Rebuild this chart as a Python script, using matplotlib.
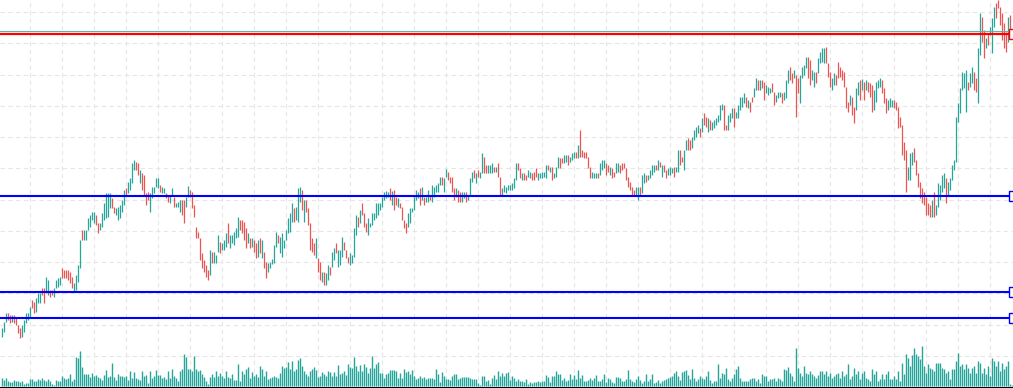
import matplotlib
matplotlib.use("Agg")
import matplotlib.pyplot as plt
import numpy as np

# candle opens / closes (price units), one value per bar
opens = [
    63, 68, 78, 87, 85, 78, 85, 83, 75, 72,
    63, 68, 77, 80, 82, 100, 98, 88, 97, 97,
    112, 112, 107, 105, 110, 110, 103, 112, 113, 115,
    132, 130, 130, 130, 128, 123, 108, 110, 118, 132,
    170, 160, 160, 170, 173, 180, 177, 185, 177, 170,
    173, 180, 182, 183, 192, 202, 193, 185, 180, 182,
    188, 195, 212, 207, 210, 217, 230, 238, 237, 217,
    227, 225, 207, 208, 188, 202, 207, 213, 212, 215,
    207, 207, 207, 205, 197, 205, 203, 193, 193, 188,
    200, 200, 193, 203, 210, 208, 195, 173, 168, 162,
    147, 140, 135, 130, 125, 148, 137, 137, 148, 158,
    150, 150, 153, 177, 152, 157, 155, 162, 163, 180,
    180, 178, 172, 157, 162, 153, 160, 157, 143, 162,
    142, 148, 138, 128, 132, 136, 137, 153, 165, 147,
    143, 152, 160, 167, 168, 178, 192, 180, 178, 198,
    210, 178, 200, 192, 177, 162, 157, 142, 142, 138,
    118, 128, 115, 120, 133, 133, 140, 157, 133, 135,
    143, 158, 150, 143, 135, 137, 143, 165, 183, 177,
    197, 187, 177, 165, 173, 175, 180, 182, 185, 190,
    193, 200, 202, 203, 212, 195, 210, 203, 193, 197,
    193, 180, 177, 173, 177, 188, 190, 200, 202, 212,
    200, 203, 198, 198, 205, 198, 203, 208, 208, 215,
    223, 208, 223, 228, 223, 223, 212, 203, 210, 208,
    198, 202, 208, 200, 205, 218, 230, 217, 230, 222,
    227, 243, 235, 227, 227, 227, 233, 228, 237, 223,
    205, 208, 207, 210, 210, 210, 212, 220, 237, 232,
    220, 227, 225, 223, 222, 227, 228, 232, 220, 222,
    222, 223, 222, 235, 228, 233, 222, 223, 232, 242,
    242, 237, 238, 245, 238, 240, 242, 248, 242, 270,
    250, 248, 248, 243, 233, 222, 222, 222, 227, 225,
    230, 232, 237, 235, 225, 232, 228, 227, 228, 235,
    237, 237, 232, 223, 218, 213, 210, 205, 200, 213,
    207, 217, 225, 220, 222, 225, 228, 235, 230, 238,
    223, 235, 230, 225, 225, 227, 233, 228, 228, 250,
    243, 230, 250, 262, 260, 252, 260, 263, 267, 272,
    268, 287, 283, 268, 280, 270, 272, 275, 278, 280,
    290, 295, 275, 270, 278, 282, 292, 282, 282, 290,
    293, 297, 303, 292, 298, 303, 303, 310, 320, 310,
    320, 318, 307, 305, 307, 317, 308, 298, 302, 303,
    307, 300, 302, 317, 333, 327, 322, 325, 322, 297,
    322, 325, 332, 343, 340, 320, 313, 328, 327, 337,
    338, 337, 353, 337, 328, 310, 315, 325, 338, 333,
    330, 328, 313, 298, 295, 303, 293, 290, 305, 320,
    310, 318, 310, 318, 317, 315, 290, 298, 312, 313,
    320, 312, 302, 290, 293, 293, 300, 298, 293, 283,
    275, 258, 250, 220, 220, 235, 252, 240, 227, 218,
    212, 208, 203, 197, 195, 183, 208, 185, 193, 200,
    208, 212, 222, 205, 210, 220, 230, 238, 278, 287,
    310, 312, 288, 318, 313, 317, 328, 322, 297, 345,
    383, 370, 352, 367, 365, 347, 373, 397, 400, 393,
    387, 377, 368, 358, 385, 370,
]
closes = [
    72, 78, 87, 80, 77, 85, 77, 75, 67, 62,
    75, 80, 87, 87, 93, 92, 87, 102, 107, 107,
    105, 97, 123, 120, 103, 105, 112, 120, 122, 123,
    122, 122, 122, 120, 117, 112, 117, 125, 135, 160,
    160, 170, 170, 182, 185, 188, 188, 175, 167, 177,
    187, 197, 207, 207, 207, 192, 187, 192, 193, 195,
    200, 210, 205, 218, 222, 237, 240, 230, 225, 230,
    210, 205, 195, 200, 207, 213, 213, 222, 222, 208,
    213, 212, 202, 198, 205, 212, 193, 197, 198, 200,
    185, 177, 203, 214, 203, 192, 183, 162, 162, 140,
    132, 128, 123, 120, 150, 137, 148, 145, 165, 147,
    157, 160, 167, 157, 165, 165, 168, 172, 183, 170,
    167, 160, 152, 167, 152, 162, 148, 142, 160, 147,
    160, 132, 122, 137, 138, 141, 155, 168, 157, 163,
    167, 160, 170, 182, 187, 197, 178, 193, 212, 213,
    190, 200, 188, 175, 150, 148, 145, 162, 128, 120,
    128, 115, 127, 135, 125, 148, 152, 147, 150, 150,
    163, 150, 142, 137, 147, 145, 172, 185, 173, 190,
    185, 173, 168, 182, 177, 187, 187, 197, 197, 197,
    203, 208, 209, 208, 200, 209, 190, 195, 202, 192,
    180, 172, 167, 187, 192, 192, 205, 210, 208, 195,
    213, 195, 203, 210, 200, 215, 213, 215, 217, 223,
    215, 222, 231, 220, 217, 208, 200, 212, 198, 198,
    208, 208, 198, 205, 222, 228, 222, 227, 223, 228,
    247, 227, 227, 235, 235, 237, 228, 233, 223, 205,
    212, 215, 213, 215, 215, 217, 222, 237, 230, 222,
    227, 220, 220, 230, 228, 220, 220, 223, 227, 227,
    228, 228, 235, 230, 233, 220, 227, 233, 243, 232,
    237, 245, 245, 235, 243, 247, 248, 242, 255, 243,
    243, 242, 242, 232, 222, 228, 227, 227, 222, 237,
    240, 240, 225, 228, 233, 222, 223, 237, 237, 227,
    230, 232, 220, 213, 210, 205, 205, 213, 213, 205,
    225, 227, 218, 225, 230, 235, 235, 230, 240, 233,
    235, 228, 222, 232, 233, 232, 223, 233, 250, 235,
    238, 250, 260, 250, 250, 263, 270, 273, 275, 263,
    282, 275, 273, 282, 270, 278, 280, 282, 285, 295,
    296, 270, 270, 285, 287, 292, 273, 288, 295, 303,
    303, 307, 293, 300, 288, 298, 312, 322, 310, 320,
    312, 300, 315, 313, 312, 308, 295, 305, 308, 308,
    297, 308, 320, 330, 320, 317, 330, 283, 307, 325,
    333, 335, 343, 322, 315, 330, 328, 317, 342, 348,
    352, 352, 337, 323, 313, 322, 327, 315, 322, 323,
    320, 313, 292, 288, 305, 285, 277, 312, 318, 300,
    321, 300, 320, 308, 303, 288, 310, 318, 320, 322,
    307, 297, 287, 300, 302, 300, 292, 290, 272, 273,
    245, 240, 208, 233, 247, 248, 238, 225, 213, 202,
    197, 195, 185, 185, 183, 200, 183, 195, 217, 215,
    225, 227, 197, 218, 222, 235, 240, 283, 297, 312,
    328, 327, 330, 310, 327, 333, 310, 308, 352, 387,
    358, 342, 362, 355, 373, 382, 393, 382, 392, 375,
    360, 352, 348, 383, 363, 362,
]
volume = [
    8, 6, 8, 5, 4, 4, 6, 5, 5, 4,
    5, 2, 3, 3, 7, 7, 5, 5, 7, 6,
    8, 6, 5, 7, 5, 2, 1, 6, 5, 5,
    10, 8, 7, 8, 12, 5, 7, 29, 28, 35,
    19, 12, 12, 12, 9, 13, 10, 11, 9, 8,
    6, 11, 16, 9, 10, 23, 9, 6, 12, 10,
    10, 9, 10, 6, 15, 8, 14, 8, 7, 6,
    15, 10, 11, 3, 15, 8, 10, 16, 11, 11,
    8, 9, 7, 15, 8, 17, 10, 8, 5, 15,
    17, 32, 29, 17, 17, 15, 30, 17, 15, 16,
    12, 9, 5, 2, 9, 12, 9, 15, 10, 13,
    10, 8, 15, 9, 8, 12, 6, 6, 22, 5,
    15, 12, 17, 19, 8, 14, 10, 12, 9, 20,
    17, 10, 15, 7, 8, 9, 10, 9, 8, 13,
    20, 18, 19, 24, 17, 25, 15, 17, 26, 28,
    20, 15, 12, 10, 15, 17, 19, 16, 9, 10,
    14, 12, 10, 15, 14, 10, 14, 10, 21, 12,
    13, 15, 11, 22, 19, 18, 29, 20, 15, 21,
    15, 22, 19, 13, 18, 30, 18, 22, 24, 13,
    13, 8, 12, 13, 16, 16, 16, 15, 8, 13,
    8, 17, 14, 15, 12, 16, 10, 7, 8, 10,
    8, 9, 7, 8, 8, 8, 7, 17, 12, 4,
    14, 10, 7, 7, 6, 10, 12, 12, 7, 8,
    9, 9, 9, 9, 8, 7, 7, 7, 3, 1,
    10, 10, 5, 6, 2, 8, 11, 7, 15, 10,
    13, 10, 13, 14, 6, 10, 8, 5, 7, 5,
    5, 4, 7, 2, 4, 3, 4, 4, 5, 4,
    5, 5, 11, 9, 4, 10, 10, 15, 12, 12,
    6, 8, 5, 6, 12, 7, 11, 7, 16, 8,
    11, 5, 5, 6, 8, 6, 8, 11, 5, 5,
    7, 12, 4, 8, 7, 4, 3, 9, 9, 8,
    5, 5, 7, 16, 7, 5, 4, 7, 10, 6,
    3, 5, 12, 5, 7, 12, 3, 4, 6, 3,
    5, 6, 7, 8, 9, 10, 13, 15, 10, 6,
    14, 15, 16, 11, 7, 17, 8, 5, 7, 10,
    8, 7, 10, 15, 6, 3, 5, 5, 22, 8,
    13, 12, 18, 7, 5, 8, 12, 17, 20, 8,
    5, 5, 5, 5, 7, 8, 8, 5, 7, 3,
    12, 10, 10, 5, 7, 7, 8, 5, 8, 7,
    5, 17, 16, 19, 13, 10, 5, 38, 18, 13,
    10, 20, 13, 12, 15, 12, 10, 8, 11, 15,
    15, 12, 15, 10, 13, 8, 10, 12, 13, 8,
    15, 10, 12, 22, 7, 10, 18, 12, 15, 7,
    13, 15, 8, 7, 5, 17, 12, 15, 5, 7,
    12, 7, 12, 15, 7, 7, 10, 7, 15, 5,
    23, 12, 32, 28, 20, 31, 38, 32, 30, 27,
    40, 20, 13, 22, 18, 17, 15, 23, 23, 23,
    18, 17, 13, 15, 7, 17, 17, 25, 33, 20,
    22, 17, 22, 18, 13, 18, 20, 13, 25, 23,
    13, 18, 12, 20, 10, 28, 25, 20, 25, 15,
    23, 17, 20, 25, 2, 1,
]

# horizontal levels drawn on the chart
support_levels = [204.3, 108.3, 82.3]
resistance_level = 366.5
last_price = 368.7

up_color = '#26a69a'
down_color = '#ef5350'

o = np.array(opens)
c = np.array(closes)
v = np.array(volume)
idx = np.arange(len(o))
up = c >= o

fig = plt.figure(figsize=(10.13, 3.88), dpi=100)
ax = fig.add_axes([0, 0, 1, 1])

# candles (thin bars)
ax.vlines(idx[up], o[up], c[up], color=up_color, lw=0.9, zorder=2,
          snap=True)
ax.vlines(idx[~up], o[~up], c[~up], color=down_color, lw=0.9, zorder=2,
          snap=True)

# level lines
for lvl in support_levels:
    ax.axhline(lvl, color='#0000ff', lw=1.5, zorder=3)
ax.axhline(resistance_level, color='#ff0000', lw=1.6, zorder=3)
ax.axhline(last_price, color='#4db6ac', lw=0.7, zorder=3)

# little label boxes at the right edge (half cut off)
edge = len(o) + 0.2
ax.plot([edge] * len(support_levels), support_levels, 's', ms=6.5,
        mfc='white', mec='#0000ff', mew=1, zorder=4)
ax.plot([edge], [resistance_level], 's', ms=6.5,
        mfc='white', mec='#ff0000', mew=1, zorder=4)

ax.set_xlim(-0.75, len(o) - 0.25)
ax.set_ylim(12, 400)

# dashed grid
ax.set_xticks(np.arange(14, len(o), 16))
ax.set_yticks(np.arange(44, 400, 31.27))
ax.grid(True, color='#e6e6e6', linestyle=(0, (4, 3)), lw=0.8)
ax.set_axisbelow(True)
ax.tick_params(length=0, labelbottom=False, labelleft=False)
for side in ['top', 'left', 'right']:
    ax.spines[side].set_visible(False)
ax.spines['bottom'].set_color('black')
ax.spines['bottom'].set_linewidth(1.5)

# volume overlay
ax2 = ax.twinx()
ax2.vlines(idx, 0, v, color=up_color, lw=1.0, zorder=2, snap=True)
ax2.set_ylim(-2, 386)
ax2.set_yticks([])
ax2.tick_params(length=0, labelright=False)
for side in ['top', 'left', 'right', 'bottom']:
    ax2.spines[side].set_visible(False)

fig.savefig('out.png', dpi=100)
